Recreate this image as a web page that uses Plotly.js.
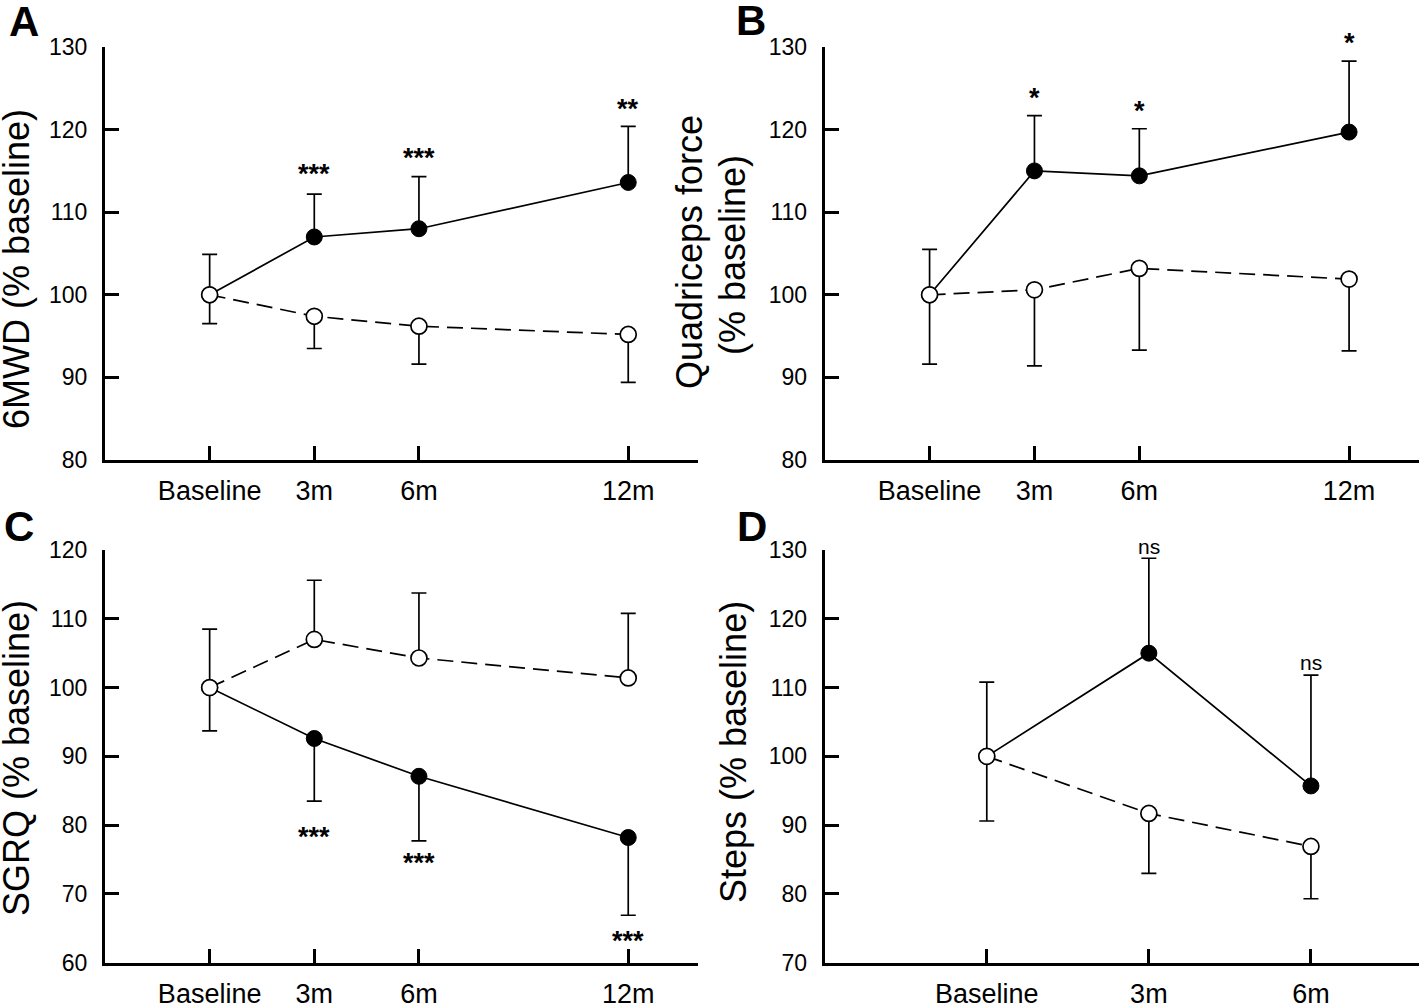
<!DOCTYPE html>
<html><head><meta charset="utf-8">
<script src="https://cdn.plot.ly/plotly-3.0.1.min.js"></script>
<style>html,body{margin:0;padding:0;background:#fff}</style>
</head><body><div id="chart" style="width:1419px;height:1004px"></div>
<script>
// ---------- data ----------
const months = [0, 3, 6, 12];
const monthsD = [0, 3, 6];
const tickLabels = ['Baseline', '3m', '6m', '12m'];
const tickLabelsD = ['Baseline', '3m', '6m'];

// A: 6MWD (% baseline)
const aFilled = [100, 107.0, 108.0, 113.6];
const aFilledBarEnd = [104.9, 112.2, 114.3, 120.4];
const aOpen = [100, 97.4, 96.2, 95.2];
const aOpenBarEnd = [96.5, 93.5, 91.6, 89.4];
const aSig = ['***', '***', '**'];
const aSigX = [3, 6, 12];
const aSigY = [115.35, 117.3, 123.25];

// B: Quadriceps force (% baseline)
const bFilled = [100, 115.0, 114.4, 119.7];
const bFilledBarEnd = [105.5, 121.7, 120.1, 128.3];
const bOpen = [100, 100.6, 103.2, 101.9];
const bOpenBarEnd = [91.6, 91.4, 93.3, 93.2];
const bSig = ['*', '*', '*'];
const bSigX = [3, 6, 12];
const bSigY = [124.6, 123.0, 131.25];

// C: SGRQ (% baseline)
const cFilled = [100, 92.6, 87.1, 78.2];
const cFilledBarEnd = [93.7, 83.5, 77.7, 66.9];
const cOpen = [100, 107.0, 104.3, 101.4];
const cOpenBarEnd = [108.5, 115.6, 113.75, 110.8];
const cSig = ['***', '***', '***'];
const cSigX = [3, 6, 12];
const cSigY = [79.1, 75.3, 64.0];

// D: Steps (% baseline)
const dFilled = [100, 115.0, 95.7];
const dFilledBarEnd = [110.8, 128.8, 111.8];
const dOpen = [100, 91.7, 86.9];
const dOpenBarEnd = [90.6, 83.0, 79.3];
const dSig = ['ns', 'ns'];
const dSigX = [3, 6];
const dSigY = [130.5, 113.6];

const panelLetters = ['A', 'B', 'C', 'D'];
const yTitles = [['6MWD (% baseline)'], ['Quadriceps force', '(% baseline)'], ['SGRQ (% baseline)'], ['Steps (% baseline)']];

// ---------- helpers ----------
const FONT = 'Liberation Sans, Arial, Helvetica, sans-serif';
const W = 1419, H = 1004;

function errObj(vals, ends) {
  const up = vals.map((v, i) => Math.max(ends[i] - v, 0));
  const dn = vals.map((v, i) => Math.max(v - ends[i], 0));
  return {type: 'data', symmetric: false, array: up, arrayminus: dn,
          color: '#000', thickness: 1.7, width: 7.5, visible: true};
}
function filledTrace(x, vals, ends, xa, ya) {
  return {x: x, y: vals, xaxis: xa, yaxis: ya, type: 'scatter', mode: 'lines+markers',
    line: {color: '#000', width: 1.7}, marker: {size: 16, color: '#000', line: {color: '#000', width: 1}},
    error_y: errObj(vals, ends), showlegend: false, hoverinfo: 'skip'};
}
function openTrace(x, vals, ends, xa, ya) {
  return {x: x, y: vals, xaxis: xa, yaxis: ya, type: 'scatter', mode: 'lines+markers',
    line: {color: '#000', width: 1.7, dash: '16px,8px'}, marker: {size: 16, color: '#fff', line: {color: '#000', width: 1.7}},
    error_y: errObj(vals, ends), showlegend: false, hoverinfo: 'skip'};
}

const data = [
  filledTrace(months, aFilled, aFilledBarEnd, 'x', 'y'),
  openTrace(months, aOpen, aOpenBarEnd, 'x', 'y'),
  filledTrace(months, bFilled, bFilledBarEnd, 'x2', 'y2'),
  openTrace(months, bOpen, bOpenBarEnd, 'x2', 'y2'),
  filledTrace(months, cFilled, cFilledBarEnd, 'x3', 'y3'),
  openTrace(months, cOpen, cOpenBarEnd, 'x3', 'y3'),
  filledTrace(monthsD, dFilled, dFilledBarEnd, 'x4', 'y4'),
  openTrace(monthsD, dOpen, dOpenBarEnd, 'x4', 'y4')
];

// pixel geometry of the four panels
const colL = [105 / W, 698 / W];
const colR = [824.7 / W, 1];
const rowT = [1 - 460 / H, 1 - 47 / H];
const rowB = [1 - 962.7 / H, 1 - 550 / H];

function xAxis(domain, anchor, range, vals, text) {
  return {domain: domain, anchor: anchor, range: range, tickmode: 'array', tickvals: vals, ticktext: text,
    ticks: 'inside', ticklen: 14, tickwidth: 3, tickcolor: '#000', showline: true, linewidth: 3, linecolor: '#000',
    showgrid: false, zeroline: false, fixedrange: true, ticklabelstandoff: 5,
    tickfont: {family: FONT, size: 27, color: '#000'}};
}
function yAxis(domain, anchor, range) {
  return {domain: domain, anchor: anchor, range: range, tickmode: 'linear', tick0: range[0], dtick: 10,
    ticks: 'inside', ticklen: 14, tickwidth: 3, tickcolor: '#000', showline: true, linewidth: 3, linecolor: '#000',
    showgrid: false, zeroline: false, fixedrange: true, ticklabelstandoff: 10,
    tickfont: {family: FONT, size: 23, color: '#000'}};
}

const ranges = {y: [80, 130], y2: [80, 130], y3: [60, 120], y4: [70, 130]};
const annotations = [];
function addSig(labels, xs, ys, xref, yref, size) {
  const r = ranges[yref];
  labels.forEach((t, i) => {
    const star = t.indexOf('*') >= 0;
    annotations.push({text: star ? '<b>' + t + '</b>' : t, x: xs[i], y: (ys[i] - r[0]) / (r[1] - r[0]),
      xref: xref, yref: yref + ' domain', showarrow: false, xanchor: 'center', yanchor: 'middle',
      yshift: star ? -0.22 * size : 0,
      font: {family: FONT, size: size, color: '#000'}});
  });
}
addSig(aSig, aSigX, aSigY, 'x', 'y', 27);
addSig(bSig, bSigX, bSigY, 'x2', 'y2', 27);
addSig(cSig, cSigX, cSigY, 'x3', 'y3', 27);
addSig(dSig, dSigX, dSigY, 'x4', 'y4', 21);

// panel letters
const letterPos = [[7, 22], [734, 21], [2, 526], [735, 526]];
panelLetters.forEach((L, i) => {
  annotations.push({text: '<b>' + L + '</b>', x: letterPos[i][0] / W, y: 1 - letterPos[i][1] / H,
    xref: 'paper', yref: 'paper', xanchor: 'left', yanchor: 'middle', showarrow: false,
    font: {family: FONT, size: 42, color: '#000'}});
});

// y-axis titles (rotated), one entry per line
const titlePos = [[[16, 269]], [[689, 252], [732, 255]], [[16, 758]], [[733, 752]]];
yTitles.forEach((lines, i) => {
  lines.forEach((t, j) => {
    annotations.push({text: t, textangle: -90, x: titlePos[i][j][0] / W, y: 1 - titlePos[i][j][1] / H,
      xref: 'paper', yref: 'paper', xanchor: 'center', yanchor: 'middle', showarrow: false,
      font: {family: FONT, size: 36, color: '#000'}});
  });
});

const layout = {
  width: W, height: H, margin: {l: 0, r: 0, t: 0, b: 0},
  paper_bgcolor: '#fff', plot_bgcolor: 'rgba(0,0,0,0)', showlegend: false,
  font: {family: FONT, color: '#000'},
  xaxis: xAxis(colL, 'y', [-3, 14], months, tickLabels),
  yaxis: yAxis(rowT, 'x', ranges.y),
  xaxis2: xAxis(colR, 'y2', [-3, 14], months, tickLabels),
  yaxis2: yAxis(rowT, 'x2', ranges.y2),
  xaxis3: xAxis(colL, 'y3', [-3, 14], months, tickLabels),
  yaxis3: yAxis(rowB, 'x3', ranges.y3),
  xaxis4: xAxis(colR, 'y4', [-3, 8], monthsD, tickLabelsD),
  yaxis4: yAxis(rowB, 'x4', ranges.y4),
  annotations: annotations
};

Plotly.newPlot('chart', data, layout, {staticPlot: true, displayModeBar: false});
</script></body></html>
